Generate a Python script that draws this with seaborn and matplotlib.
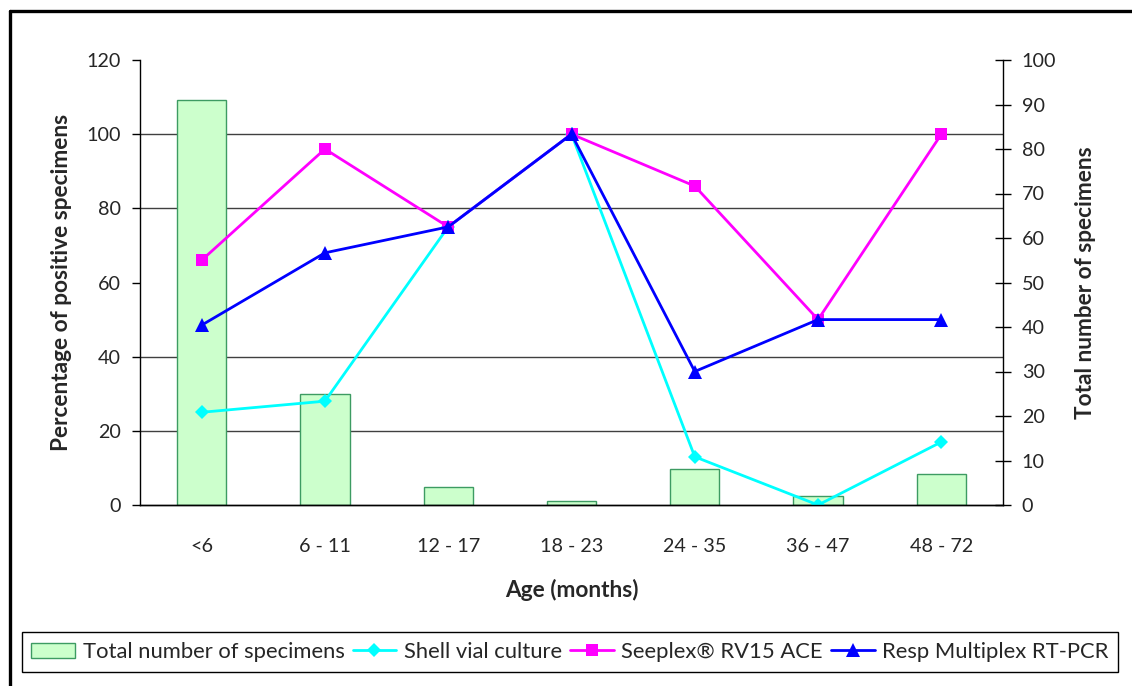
import numpy as np
import pandas as pd
import matplotlib
matplotlib.use("Agg")
import matplotlib.pyplot as plt
from matplotlib.lines import Line2D
from matplotlib.ticker import FixedLocator
import seaborn as sns

# ---- data ----
age_groups = ["<6", "6 - 11", "12 - 17", "18 - 23", "24 - 35", "36 - 47", "48 - 72"]
total_specimens = [91, 25, 4, 1, 8, 2, 7]
shell_vial = [25, 28, 75, 100, 13, 0, 17]
seeplex = [66, 96, 75, 100, 86, 50, 100]
resp_multiplex = [48.5, 68, 75, 100, 36, 50, 50]

left_ticks = [0, 20, 40, 60, 80, 100, 120]
right_ticks = [0, 10, 20, 30, 40, 50, 60, 70, 80, 90, 100]

sns.set_theme(style="white")
plt.rcParams["font.family"] = ["Lato", "DejaVu Sans"]

TICK_FS = 14.2
LABEL_FS = 16.3
LEG_FS = 15.8

W, H = 1132, 686
fig = plt.figure(figsize=(W / 100, H / 100), dpi=100)
fig.patch.set_facecolor("white")

ax = fig.add_axes([140 / W, 1 - 505 / H, (1003 - 140) / W, (505 - 60) / H])
ax2 = ax.twinx()

# bars on right axis, drawn behind lines
df_bar = pd.DataFrame({"age": age_groups, "n": total_specimens})
sns.barplot(data=df_bar, x="age", y="n", order=age_groups, ax=ax2,
            color="#CCFFCC", edgecolor="#3D9B62", linewidth=1.0, width=0.4,
            saturation=1, label="Total number of specimens")
ax2.set_ylim(0, 100)
ax2.set_yticks(right_ticks)
ax2.yaxis.set_minor_locator(FixedLocator(np.array(left_ticks) * 100 / 120))
ax2.grid(True, which="minor", axis="y", color="#404040", linewidth=1.0)
ax2.grid(False, which="major")
ax2.set_axisbelow(True)
ax2.tick_params(axis="y", which="minor", length=0)
ax2.tick_params(axis="y", which="major", direction="inout", length=11, width=1,
                color="black", labelsize=TICK_FS, pad=8)
ax2.set_ylabel("Total number of specimens", fontsize=LABEL_FS, fontweight="bold")
ax2.set_xlabel("")

ax.set_zorder(ax2.get_zorder() + 1)
ax.patch.set_visible(False)
ax2.patch.set_visible(True)
ax2.patch.set_facecolor("white")

xpos = np.arange(len(age_groups))
df_lines = pd.DataFrame({"x": xpos, "shell": shell_vial, "seeplex": seeplex,
                         "resp": resp_multiplex})
sns.lineplot(data=df_lines, x="x", y="shell", ax=ax, color="#00FFFF", linewidth=2.0,
             marker="D", markersize=7, markeredgewidth=0, label="Shell vial culture")
sns.lineplot(data=df_lines, x="x", y="seeplex", ax=ax, color="#FF00FF", linewidth=2.0,
             marker="s", markersize=8, markeredgewidth=0, label="Seeplex\u00ae RV15 ACE")
sns.lineplot(data=df_lines, x="x", y="resp", ax=ax, color="#0000FF", linewidth=2.0,
             marker="^", markersize=10, markeredgewidth=0, label="Resp Multiplex RT-PCR")

ax.set_xlim(-0.5, len(age_groups) - 0.5)
ax.set_ylim(0, 120)
ax.set_yticks(left_ticks)
ax.set_xticks(np.arange(len(age_groups) + 1) - 0.5, minor=False)
ax.set_xticklabels([""] * (len(age_groups) + 1))
ax.set_xticks(xpos, minor=True)
ax.set_xticklabels(age_groups, minor=True)
ax.tick_params(axis="x", which="major", direction="out", length=7, width=1, color="black")
ax.tick_params(axis="x", which="minor", length=0, labelsize=TICK_FS, pad=24)
ax.tick_params(axis="y", direction="out", length=6, width=1, color="black",
               labelsize=TICK_FS, pad=8, left=True)
ax.set_ylabel("Percentage of positive specimens", fontsize=LABEL_FS, fontweight="bold")
ax.set_xlabel("Age (months)", fontsize=LABEL_FS, fontweight="bold")
if ax.get_legend():
    ax.get_legend().remove()
if ax2.get_legend():
    ax2.get_legend().remove()

# label positions
ax.yaxis.set_label_coords((62 - 140) / 863, 0.5)
ax.yaxis.label.set_verticalalignment("center")
ax2.yaxis.set_label_coords((1085 - 140) / 863, 0.5)
ax2.yaxis.label.set_verticalalignment("center")
ax.xaxis.set_label_coords(0.5, -(590 - 505) / 445)
ax.xaxis.label.set_verticalalignment("center")

for a in (ax, ax2):
    a.spines["top"].set_visible(False)
    for s in a.spines.values():
        s.set_color("black")
        s.set_linewidth(1.0)
ax.spines["right"].set_visible(False)
ax2.spines["left"].set_visible(False)

# legend
h1, l1 = ax2.get_legend_handles_labels()
h2, l2 = ax.get_legend_handles_labels()
leg = fig.legend(h1 + h2, l1 + l2, loc="center", ncol=4,
                 bbox_to_anchor=(570 / W, 1 - 652 / H), fontsize=LEG_FS,
                 frameon=True, fancybox=False, edgecolor="black", framealpha=1,
                 handlelength=2.0, handletextpad=0.35, columnspacing=0.35,
                 borderpad=0.45, borderaxespad=0)
leg.get_frame().set_linewidth(1.0)

# outer frame lines (top and left)
fig.add_artist(Line2D([9.5 / W, 1], [1 - 11 / H, 1 - 11 / H], color="black",
                      linewidth=2.4, transform=fig.transFigure))
fig.add_artist(Line2D([9.5 / W, 9.5 / W], [0, 1 - 11 / H], color="black",
                      linewidth=2.4, transform=fig.transFigure))

fig.savefig("out.png", dpi=100)
